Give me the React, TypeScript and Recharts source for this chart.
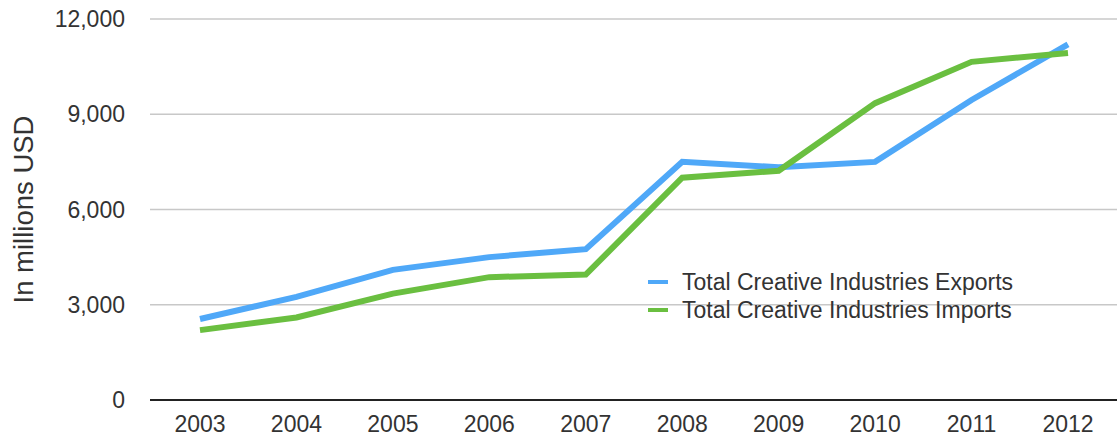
import { LineChart, Line, XAxis, YAxis, CartesianGrid, Legend, Label } from "recharts";

const years = ["2003", "2004", "2005", "2006", "2007", "2008", "2009", "2010", "2011", "2012"];
const exportsUsd = [2550, 3250, 4100, 4500, 4750, 7500, 7330, 7500, 9450, 11200];
const importsUsd = [2200, 2600, 3350, 3870, 3950, 7000, 7220, 9350, 10650, 10930];
const yTicks = [0, 3000, 6000, 9000, 12000];

const BLUE = "#4fa8f8";
const GREEN = "#6abf40";
const FONT = "'Liberation Sans', Arial, Helvetica, sans-serif";

const data = years.map((year, i) => ({
  year,
  exports: exportsUsd[i],
  imports: importsUsd[i],
}));

function LegendBox({ payload }: any) {
  return (
    <div style={{ fontFamily: FONT, fontSize: 23, color: "#333" }}>
      {(payload || []).map((item: any) => (
        <div
          key={item.value}
          style={{ display: "flex", alignItems: "center", height: 28, whiteSpace: "nowrap" }}
        >
          <span
            style={{
              display: "inline-block",
              width: 20,
              height: 4,
              background: item.color,
              marginRight: 14,
            }}
          />
          <span>{item.value}</span>
        </div>
      ))}
    </div>
  );
}

export default function App() {
  return (
    <div style={{ position: "absolute", left: 0, top: 0, background: "#fff" }}>
      <LineChart
        width={1117}
        height={437}
        data={data}
        margin={{ top: 19, right: 0, bottom: 0, left: 0 }}
      >
        <CartesianGrid vertical={false} stroke="#c8c8c8" strokeWidth={1.5} />
        <XAxis
          dataKey="year"
          height={37}
          tickSize={0}
          tickMargin={16}
          interval={0}
          padding={{ left: 50, right: 49 }}
          axisLine={{ stroke: "#222", strokeWidth: 2 }}
          tick={{ fill: "#333", fontSize: 23, fontFamily: FONT }}
        />
        <YAxis
          width={150}
          domain={[0, 12000]}
          ticks={yTicks}
          interval={0}
          axisLine={false}
          tickSize={0}
          tickMargin={25}
          tickFormatter={(v: number) => v.toLocaleString("en-US")}
          tick={{ fill: "#333", fontSize: 23, fontFamily: FONT }}
        >
          <Label
            content={({ viewBox }: any) => {
              const cx = 23;
              const cy = viewBox.y + viewBox.height / 2;
              return (
                <text
                  x={cx}
                  y={cy}
                  transform={`rotate(-90 ${cx} ${cy})`}
                  textAnchor="middle"
                  dominantBaseline="central"
                  fill="#333"
                  fontSize={27.5}
                  fontFamily={FONT}
                >
                  In millions USD
                </text>
              );
            }}
          />
        </YAxis>
        <Legend
          layout="vertical"
          verticalAlign="middle"
          align="center"
          wrapperStyle={{ left: 648, top: 268, width: 420 }}
          content={<LegendBox />}
        />
        <Line
          type="linear"
          dataKey="exports"
          name="Total Creative Industries Exports"
          stroke={BLUE}
          strokeWidth={6}
          dot={false}
          activeDot={false}
          isAnimationActive={false}
        />
        <Line
          type="linear"
          dataKey="imports"
          name="Total Creative Industries Imports"
          stroke={GREEN}
          strokeWidth={6}
          dot={false}
          activeDot={false}
          isAnimationActive={false}
        />
      </LineChart>
    </div>
  );
}
